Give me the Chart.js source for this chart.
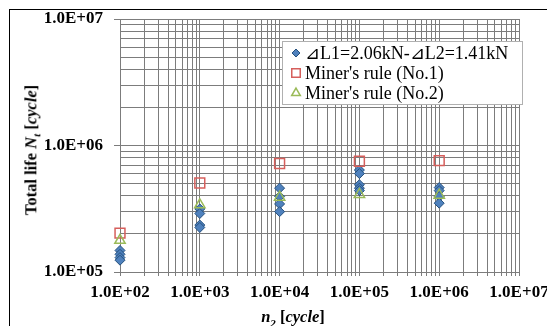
<!DOCTYPE html>
<html>
<head>
<meta charset="utf-8">
<script src="https://cdn.jsdelivr.net/npm/chart.js@4"></script>
<style>
  body { margin: 0; background: #fff; }
  #wrap { position: relative; width: 547px; height: 326px; overflow: hidden; }
  #frame { position: absolute; left: 9px; top: 9px; width: 600px; height: 400px;
           border-left: 1.5px solid #000; border-top: 1.5px solid #000; }
  #chart { position: absolute; left: 0; top: 0; }
  .ttl { position: absolute; font-family: "Liberation Serif", "Times New Roman", serif;
         font-weight: bold; font-size: 16.5px; white-space: nowrap; color: #000; }
  .ttl sub { font-size: 11px; }
  #ytitle { left: 32px; top: 150px; transform: translate(-50%, -50%) rotate(-90deg); }
  #xtitle { left: 293px; top: 318px; transform: translate(-50%, -50%); }
</style>
</head>
<body>
<div id="wrap">
  <div id="frame"></div>
  <canvas id="chart" width="547" height="326"></canvas>
  <div class="ttl" id="ytitle">Total life <i>N<sub>t</sub></i> [<i>cycle</i>]</div>
  <div class="ttl" id="xtitle"><i>n<sub>2</sub></i> [<i>cycle</i>]</div>
</div>
<script>
// ── Data ──────────────────────────────────────────
const seriesLabels = ['⊿L1=2.06kN-⊿L2=1.41kN', "Miner's rule (No.1)", "Miner's rule (No.2)"];

// experiment (diamonds)
const testN2   = [1e2, 1e2, 1e2, 1e2,
                  1e3, 1e3, 1e3, 1e3,
                  1e4, 1e4, 1e4, 1e4,
                  1e5, 1e5, 1e5, 1e5, 1e5,
                  1e6, 1e6, 1e6, 1e6];
const testLife = [1.48e5, 1.38e5, 1.30e5, 1.24e5,
                  3.15e5, 2.90e5, 2.35e5, 2.25e5,
                  4.60e5, 3.95e5, 3.45e5, 3.00e5,
                  6.40e5, 6.00e5, 4.90e5, 4.60e5, 4.40e5,
                  4.65e5, 4.40e5, 3.95e5, 3.50e5];

// Miner's rule predictions
const minerN2    = [1e2, 1e3, 1e4, 1e5, 1e6];
const miner1Life = [2.03e5, 5.05e5, 7.2e5, 7.5e5, 7.6e5];
const miner2Life = [1.78e5, 3.40e5, 3.9e5, 4.1e5, 4.05e5];

const xTickLabels = ['1.0E+02', '1.0E+03', '1.0E+04', '1.0E+05', '1.0E+06', '1.0E+07'];
const yTickLabels = ['1.0E+05', '1.0E+06', '1.0E+07'];

// ── Helpers ───────────────────────────────────────
const SERIF = '"Liberation Serif", "Times New Roman", serif';
const GRID  = '#7c7c7c';

const isPow10 = v => Math.abs(Math.log10(v) - Math.round(Math.log10(v))) < 1e-9;

function logTicks(min, max) {
  const out = [];
  for (let e = Math.log10(min); e < Math.log10(max); e++) {
    for (let m = 1; m < 10; m++) out.push({ value: m * Math.pow(10, e) });
  }
  out.push({ value: max });
  return out;
}

function labelFor(list, min) {
  return v => isPow10(v) ? list[Math.round(Math.log10(v / min))] : '';
}

const pts = (xs, ys) => xs.map((x, i) => ({ x, y: ys[i] }));

// ── Legend drawn inside the plot ──────────────────
const boxLegend = {
  id: 'boxLegend',
  afterDraw(chart) {
    const { ctx } = chart;
    const left = 282, top = 41, w = 240, h = 63;
    ctx.save();
    ctx.fillStyle = '#fff';
    ctx.fillRect(left, top, w, h);
    ctx.strokeStyle = '#b0b0b0';
    ctx.lineWidth = 1;
    ctx.strokeRect(left + 0.5, top + 0.5, w, h);

    ctx.font = '18px ' + SERIF;
    ctx.textBaseline = 'middle';
    const rows = [53, 73, 93];
    chart.data.datasets.forEach((ds, i) => {
      const y = rows[i];
      ctx.fillStyle = ds.backgroundColor;
      ctx.strokeStyle = ds.borderColor;
      ctx.lineWidth = ds.borderWidth;
      Chart.helpers.drawPoint(ctx, {
        pointStyle: ds.pointStyle,
        radius: ds.legendRadius,
        borderWidth: ds.borderWidth,
      }, 296, y);
      ctx.fillStyle = '#000';
      ctx.fillText(ds.label, 305, y + 1);
    });
    ctx.restore();
  },
};

// ── Chart ─────────────────────────────────────────
new Chart(document.getElementById('chart'), {
  type: 'scatter',
  plugins: [boxLegend],
  data: {
    datasets: [
      {
        label: seriesLabels[0],
        data: pts(testN2, testLife),
        pointStyle: 'rectRot',
        pointRadius: 5,
        legendRadius: 4,
        backgroundColor: '#4f81bd',
        borderColor: '#27527f',
        borderWidth: 1,
        clip: false,
        order: 3,
      },
      {
        label: seriesLabels[1],
        data: pts(minerN2, miner1Life),
        pointStyle: 'rect',
        pointRadius: 7,
        legendRadius: 6,
        backgroundColor: 'rgba(0,0,0,0)',
        borderColor: '#d65f5c',
        borderWidth: 1.5,
        clip: false,
        order: 2,
      },
      {
        label: seriesLabels[2],
        data: pts(minerN2, miner2Life),
        pointStyle: 'triangle',
        pointRadius: 6,
        legendRadius: 5,
        backgroundColor: 'rgba(0,0,0,0)',
        borderColor: '#9bbb59',
        borderWidth: 1.5,
        clip: false,
        order: 1,
      },
    ],
  },
  options: {
    responsive: false,
    animation: false,
    layout: { padding: { left: 0, right: 28, top: 19, bottom: 0 } },
    plugins: { legend: { display: false }, tooltip: { enabled: false } },
    scales: {
      x: {
        type: 'logarithmic',
        min: 1e2, max: 1e7,
        afterBuildTicks: s => { s.ticks = logTicks(1e2, 1e7); },
        afterFit: s => { s.height = 54; s.paddingLeft = 0; s.paddingRight = 0; },
        grid: { color: GRID, lineWidth: 1, tickLength: 4, tickColor: GRID },
        border: { color: GRID },
        ticks: {
          autoSkip: false, maxRotation: 0, padding: 6,
          color: '#000',
          font: { family: SERIF, weight: 'bold', size: 17 },
          callback: labelFor(xTickLabels, 1e2),
        },
      },
      y: {
        type: 'logarithmic',
        min: 1e5, max: 1e7,
        afterBuildTicks: s => { s.ticks = logTicks(1e5, 1e7); },
        afterFit: s => { s.width = 120; s.paddingTop = 0; s.paddingBottom = 0; },
        grid: {
          color: GRID, lineWidth: 1, tickLength: 6,
          tickColor: c => (c.tick && isPow10(c.tick.value)) ? GRID : 'rgba(0,0,0,0)',
        },
        border: { color: GRID },
        ticks: {
          autoSkip: false, padding: 11,
          color: '#000',
          font: { family: SERIF, weight: 'bold', size: 17 },
          callback: labelFor(yTickLabels, 1e5),
        },
      },
    },
  },
});
</script>
</body>
</html>
